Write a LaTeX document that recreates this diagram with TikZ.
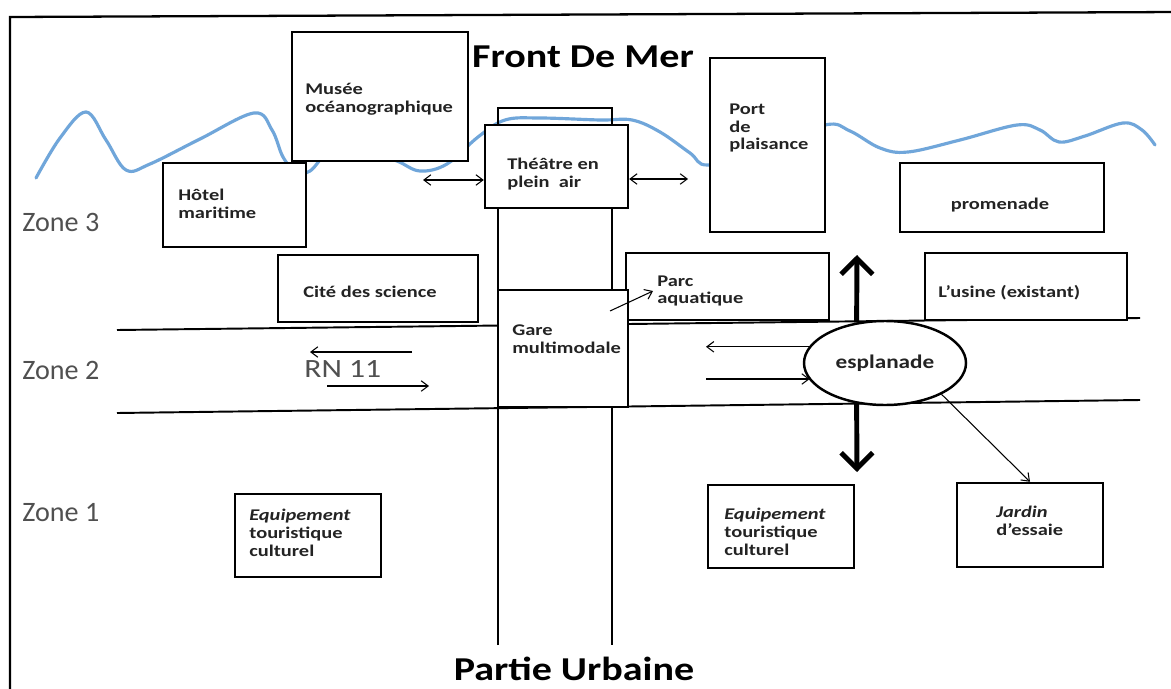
\documentclass[tikz,border=0pt]{standalone}
\usepackage{fontspec}
\setmainfont{Carlito}
\newfontfamily\widefont[FakeStretch=1.2]{Carlito}
\newfontfamily\boxfont[FakeStretch=1.25]{Carlito}
\usetikzlibrary{arrows.meta}
\usetikzlibrary{shapes.geometric}
\usetikzlibrary{fit}

\definecolor{sea}{RGB}{112,166,218}
\definecolor{zonegray}{RGB}{80,80,80}
\definecolor{boxtext}{RGB}{35,35,35}

\tikzset{
  bloc/.style={draw, line width=1.4pt, fill=white, inner sep=0pt},
  bloctext/.style={font=\boxfont\bfseries\fontsize{9.3}{10.2}\selectfont, text=boxtext, align=left, anchor=west, inner sep=0pt},
  zone/.style={font=\fontsize{16}{18}\selectfont, text=zonegray, anchor=west, inner sep=0pt},
  titre/.style={font=\widefont\bfseries\fontsize{19}{22}\selectfont},
  route/.style={line width=1.1pt},
  fleche/.style={line width=0.6pt},
  grosse/.style={line width=2.8pt, -{Straight Barb[length=9pt,width=18pt]}},
}

\begin{document}
\begin{tikzpicture}[x=0.2mm, y=-0.2mm, >={Straight Barb[length=4pt,width=6pt]}]
\useasboundingbox (0,0) rectangle (1171,688);
\fill[white] (0,0) rectangle (1171,688);
\draw[line width=1.3pt] (10,700) -- (10,17) -- (1180,12);

% la mer
\draw[sea, line width=1.8pt, line cap=round] plot[smooth, tension=0.6] coordinates {
  (36,178) (60,138) (86,112) (106,140) (126,170) (150,164) (200,139) (254,113)
  (272,130) (283,157) (296,172) (310,171) (330,152) (365,150) (397,161) (420,171)
  (447,164) (478,137) (505,120) (540,118) (600,120) (632,120) (660,132) (690,153)
  (708,165) (760,150) (825,125) (850,131) (880,148) (908,152) (960,140) (1017,125)
  (1040,130) (1059,142) (1085,136) (1123,123) (1142,130) (1155,145)};

% routes
\draw[route] (498,645) -- (498,108) -- (612,108) -- (612,645);
\draw[route] (117,330) -- (1140,318);
\draw[route] (117,413) -- (1140,400);

% batiments
\node[bloc, fit={(292,32) (468,161)}] (musee) {};
\node[bloc, fit={(163,163) (306,247)}] (hotel) {};
\node[bloc, fit={(485,125) (628,208)}] (theatre) {};
\node[bloc, fit={(710,58) (825,232)}] (port) {};
\node[bloc, fit={(900,163) (1104,232)}] (promenade) {};
\node[bloc, fit={(278,255) (478,322)}] (cite) {};
\node[bloc, fit={(626,253) (829,320)}] (parc) {};
\node[bloc, fit={(925,253) (1127,320)}] (usine) {};
\node[bloc, fit={(498,290) (628,407)}] (gare) {};
\node[bloc, fit={(235,494) (381,577)}] (equipA) {};
\node[bloc, fit={(708,485) (854,568)}] (equipB) {};
\node[bloc, fit={(957,483) (1103,567)}] (jardin) {};
\node[bloc, ellipse, minimum width=32.4mm, minimum height=16.8mm,
  font=\widefont\bfseries\fontsize{11}{13}\selectfont, text=boxtext] (esplanade) at (885,363) {esplanade};

\node[bloctext] (musee-t) at (305,99) {Musée\\océanographique};
\node[bloctext] (hotel-t) at (178,204) {Hôtel\\maritime};
\node[bloctext] (theatre-t) at (507,174) {Théâtre en\\plein\ \ air};
\node[bloctext] (port-t) at (729,128) {Port\\de\\plaisance};
\node[bloctext, anchor=center] (promenade-t) at (1000,205) {promenade};
\node[bloctext, anchor=center] (cite-t) at (370,292) {Cité des science};
\node[bloctext] (parc-t) at (657,291) {Parc\\aquatique};
\node[bloctext] (usine-t) at (938,293) {L’usine (existant)};
\node[bloctext] (gare-t) at (512,339) {Gare\\multimodale};
\node[bloctext] (equipA-t) at (249,533) {\textit{Equipement}\\touristique\\culturel};
\node[bloctext] (equipB-t) at (724,532) {\textit{Equipement}\\touristique\\culturel};
\node[bloctext] (jardin-t) at (996,521) {\textit{Jardin}\\d’essaie};

\node[titre] (front) at (583,57) {Front De Mer};
\node[titre] (urbaine) at (574,669) {Partie Urbaine};
\node[zone] (zone3) at (22,222) {Zone 3};
\node[zone] (zone2) at (22,370) {Zone 2};
\node[zone] (zone1) at (22,513) {Zone 1};
\node[zone, font=\widefont\fontsize{15}{18}\selectfont] (rn) at (304,369) {RN 11};

% circulations
\coordinate (rnA) at (412,352);
\coordinate (rnB) at (310,352);
\coordinate (rnC) at (327,386);
\coordinate (rnD) at (429,386);
\draw[fleche, ->] (rnA) -- (rnB);
\draw[fleche, ->] (rnC) -- (rnD);
\coordinate (quaiW) at (423,180);
\coordinate (quaiE) at (688,179);
\draw[fleche, <->] (quaiW) -- (quaiW -| theatre.west);
\draw[fleche, <->] (quaiE -| theatre.east) -- (quaiE);
\coordinate (voieA) at (706,348);
\coordinate (voieB) at (706,379);
\draw[fleche, ->] (esplanade.168) -- (esplanade.168 -| voieA);
\draw[fleche, ->] (voieB) -- (voieB -| esplanade.193);
\coordinate (gareA) at (610,311);
\coordinate (parcA) at (653,291);
\draw[fleche, ->] (gareA) -- (parcA);
\draw[fleche, ->] (esplanade.331) -- (jardin.north);
\coordinate (nord) at (857,255);
\coordinate (sud) at (857,472);
\draw[grosse] (esplanade.125) -- (nord);
\draw[grosse] (esplanade.235) -- (sud);
\end{tikzpicture}
\end{document}
